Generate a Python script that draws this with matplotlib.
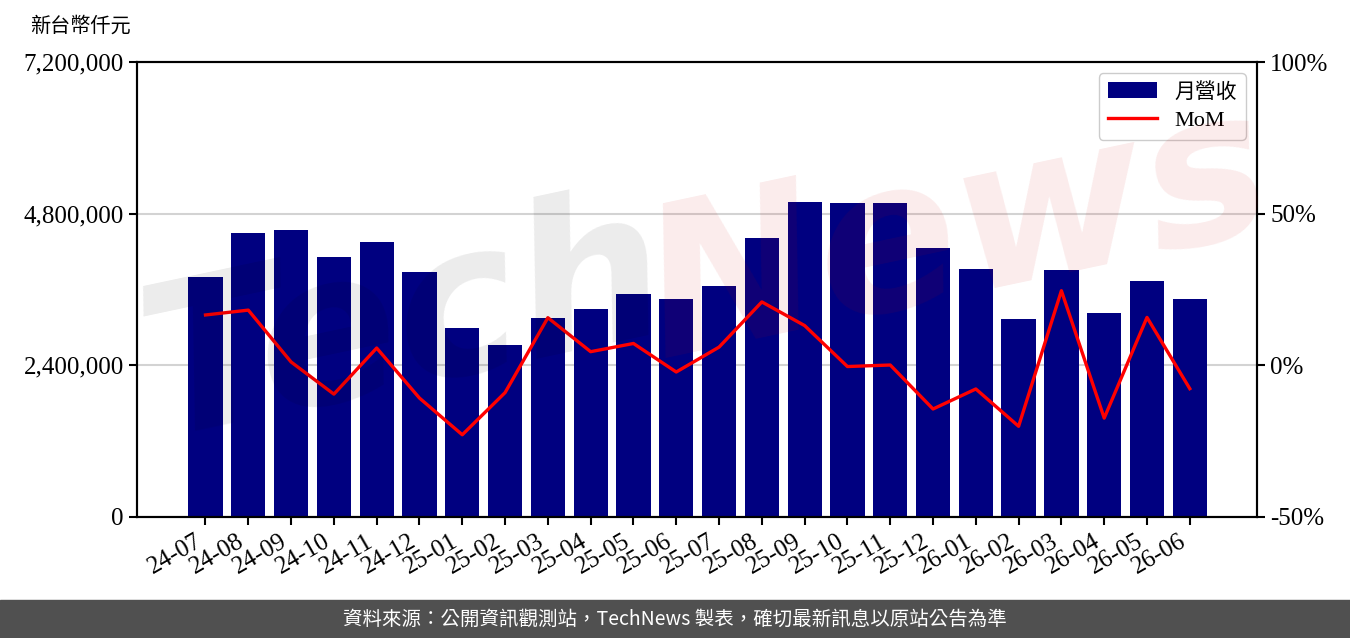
import matplotlib
matplotlib.use("Agg")
import matplotlib.pyplot as plt
from matplotlib.ticker import FuncFormatter, FixedLocator

# --------------------------------------------------
# 資料
# --------------------------------------------------
months = ["24-07", "24-08", "24-09", "24-10", "24-11", "24-12",
          "25-01", "25-02", "25-03", "25-04", "25-05", "25-06",
          "25-07", "25-08", "25-09", "25-10", "25-11", "25-12",
          "26-01", "26-02", "26-03", "26-04", "26-05", "26-06"]
revenue = [3798000, 4494000, 4541000, 4114000, 4352000, 3877000,
           2991000, 2722000, 3149000, 3291000, 3529000, 3450000,
           3655000, 4415000, 4985000, 4969000, 4969000, 4257000,
           3924000, 3133000, 3909000, 3228000, 3734000, 3450000]
mom = [16.6, 18.2, 1.1, -9.5, 5.7, -10.8,
       -22.9, -9.0, 15.7, 4.5, 7.2, -2.2,
       6.0, 20.9, 13.1, -0.4, 0.1, -14.4,
       -7.8, -20.1, 24.6, -17.4, 15.8, -7.7]
left_ticks = [0, 2400000, 4800000, 7200000]
right_ticks = [-50, 0, 50, 100]

plt.rcParams['font.family'] = ['Liberation Serif', 'Noto Sans CJK TC']

fig = plt.figure(figsize=(13.5, 6.38), dpi=100)
ax = fig.add_axes([0.1015, 0.1897, 0.8296, 0.7131])
ax2 = ax.twinx()

x = list(range(len(months)))
bars = ax.bar(x, revenue, width=0.8, color="#000080", zorder=2)
line, = ax2.plot(x, mom, color="red", lw=2.4, zorder=3)

ax.set_xlim(-1.6, 24.57)
ax.set_ylim(0, 7200000)
ax2.set_ylim(-50, 100)

ax.yaxis.set_major_locator(FixedLocator(left_ticks))
ax.yaxis.set_major_formatter(FuncFormatter(lambda v, p: f"{int(v):,}"))
ax2.yaxis.set_major_locator(FixedLocator(right_ticks))
ax2.yaxis.set_major_formatter(FuncFormatter(lambda v, p: f"{int(v)}%"))

ax.set_xticks(x)
ax.set_xticklabels(months, rotation=30, ha="right")

ax.set_axisbelow(True)
ax.yaxis.grid(True, color="#d3d3d3", lw=1.5, zorder=0)

for a in (ax, ax2):
    for s in a.spines.values():
        s.set_linewidth(1.5)
    a.tick_params(labelsize=18, length=6, width=1.5)

leg = ax2.legend([bars, line], ["月營收", "MoM"], loc="upper right",
                 fontsize=16, frameon=True, edgecolor="#cccccc", framealpha=1.0,
                 borderaxespad=0.5, handlelength=2.2, labelspacing=0.35)
leg.get_texts()[0].set_fontsize(15)

fig.text(30 / 1350, 1 - 27 / 638, "新台幣仟元", fontsize=14.5, va="center", ha="left")

# 浮水印
fig.text(0.30, 0.49, "Tech", fontsize=150, color="black", alpha=0.08,
         rotation=12, ha="center", va="center", family="DejaVu Sans",
         fontweight="bold", style="italic", zorder=5)
fig.text(0.71, 0.63, "News", fontsize=150, color="#d00000", alpha=0.08,
         rotation=12, ha="center", va="center", family="DejaVu Sans",
         fontweight="bold", style="italic", zorder=5)

# 頁尾
fig.patches.append(plt.Rectangle((0, 0), 1, 38 / 638, transform=fig.transFigure,
                                 color="#505050", zorder=1))
fig.text(0.5, 19 / 638, "資料來源：公開資訊觀測站，TechNews 製表，確切最新訊息以原站公告為準",
         color="white", fontsize=14, ha="center", va="center",
         family=["Noto Sans CJK TC", "DejaVu Sans"], zorder=2)

fig.savefig("out.png", dpi=100)
